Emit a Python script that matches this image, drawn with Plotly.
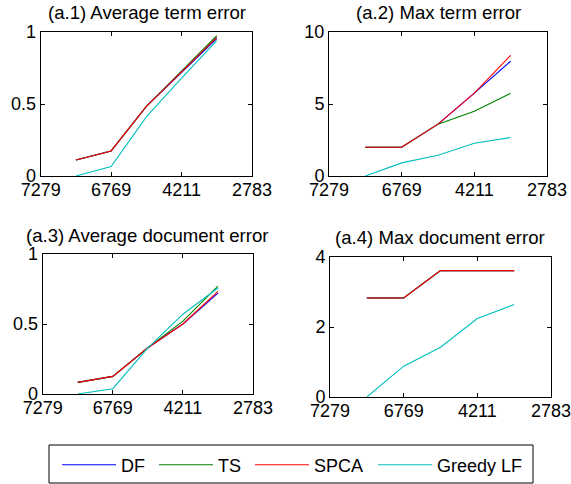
import plotly.graph_objects as go

W, H = 571, 484

x_pos = [1, 2, 3, 4, 5]
tick_vals = [0, 2, 4, 6]
tick_text = ["7279", "6769", "4211", "2783"]

series = ["DF", "TS", "SPCA", "Greedy LF"]
colors = {"DF": "rgb(0,0,255)", "TS": "rgb(0,128,0)", "SPCA": "rgb(255,0,0)", "Greedy LF": "rgb(0,191,191)"}

avg_term = {
    "DF":   [0.111, 0.174, 0.483, 0.72, 0.954],
    "TS":   [0.111, 0.174, 0.483, 0.725, 0.974],
    "SPCA": [0.111, 0.174, 0.483, 0.722, 0.963],
    "Greedy LF": [0.0, 0.065, 0.41, 0.68, 0.94],
}
max_term = {
    "DF":   [2.0, 2.0, 3.6, 5.75, 7.97],
    "TS":   [2.0, 2.0, 3.6, 4.5, 5.75],
    "SPCA": [2.0, 2.0, 3.6, 5.75, 8.38],
    "Greedy LF": [0.0, 0.91, 1.44, 2.28, 2.67],
}
avg_doc = {
    "DF":   [0.083, 0.126, 0.33, 0.50, 0.72],
    "TS":   [0.083, 0.126, 0.33, 0.52, 0.77],
    "SPCA": [0.083, 0.126, 0.33, 0.50, 0.733],
    "Greedy LF": [0.0, 0.038, 0.33, 0.57, 0.757],
}
max_doc = {
    "DF":   [2.83, 2.83, 3.61, 3.61, 3.61],
    "TS":   [2.83, 2.83, 3.61, 3.61, 3.61],
    "SPCA": [2.83, 2.83, 3.61, 3.61, 3.61],
    "Greedy LF": [0.0, 0.88, 1.42, 2.24, 2.64],
}

titles = ["(a.1) Average term error", "(a.2) Max term error",
          "(a.3) Average document error", "(a.4) Max document error"]
datasets = [avg_term, max_term, avg_doc, max_doc]
y_ranges = [[0, 1], [0, 10], [0, 1], [0, 4]]
y_ticks = [[0, 0.5, 1], [0, 5, 10], [0, 0.5, 1], [0, 2, 4]]
y_ticktext = [["0", "0.5", "1"], ["0", "5", "10"], ["0", "0.5", "1"], ["0", "2", "4"]]

# pixel boxes (left, right, top, bottom)
boxes = [(40.7, 252, 32, 176), (329, 547, 32, 176),
         (42.7, 253, 254, 394), (330, 551, 257, 397)]
title_pos = [(147, 12), (438, 12), (148, 236), (440, 237)]

FONT = "Liberation Sans, Arial, Helvetica, sans-serif"

fig = go.Figure()
legend_widths = {"DF": 28, "TS": 27, "SPCA": 54, "Greedy LF": 90}

for i, data in enumerate(datasets):
    suffix = "" if i == 0 else str(i + 1)
    for s in series:
        fig.add_trace(go.Scatter(
            x=x_pos, y=data[s], mode="lines", name=s,
            line=dict(color=colors[s], width=1.1),
            xaxis="x" + suffix, yaxis="y" + suffix,
            showlegend=(i == 0), legendwidth=legend_widths[s],
        ))
    l, r, t, b = boxes[i]
    axis_common = dict(showline=True, linecolor="black", linewidth=1, mirror="ticks",
                       ticks="inside", ticklen=4, tickcolor="black", showgrid=False,
                       zeroline=False, automargin=False,
                       tickfont=dict(size=18, color="black", family=FONT))
    fig.layout["xaxis" + suffix] = dict(
        domain=[l / W, r / W], anchor="y" + suffix, range=[0, 6],
        tickmode="array", tickvals=tick_vals, ticktext=tick_text,
        ticklabeloverflow="allow", ticklabelstandoff=-3, **axis_common)
    fig.layout["yaxis" + suffix] = dict(
        domain=[1 - b / H, 1 - t / H], anchor="x" + suffix, range=y_ranges[i],
        tickmode="array", tickvals=y_ticks[i], ticktext=y_ticktext[i], **axis_common)
    cx, cy = title_pos[i]
    fig.add_annotation(text=titles[i], x=cx / W, y=1 - cy / H, xref="paper", yref="paper",
                       xanchor="center", yanchor="middle", showarrow=False,
                       font=dict(size=18.6, color="black", family=FONT))

# legend frame
fig.add_shape(type="rect", xref="paper", yref="paper",
              x0=49 / W, x1=533 / W, y0=1 - 483 / H, y1=1 - 445 / H,
              line=dict(color="black", width=1), fillcolor="rgba(0,0,0,0)", layer="above")

fig.update_layout(
    width=W, height=H, margin=dict(l=0, r=0, t=0, b=0, autoexpand=False),
    paper_bgcolor="white", plot_bgcolor="white",
    font=dict(family=FONT, size=18, color="black"),
    legend=dict(orientation="h", x=57 / W, y=1 - 446.5 / H, xanchor="left", yanchor="top",
                borderwidth=0, bgcolor="rgba(0,0,0,0)", itemwidth=54,
                font=dict(size=18, color="black", family=FONT)),
)

fig.write_html("out.html", config={"displayModeBar": False},
               post_script="document.body.style.margin='0';document.body.style.overflow='hidden';")
